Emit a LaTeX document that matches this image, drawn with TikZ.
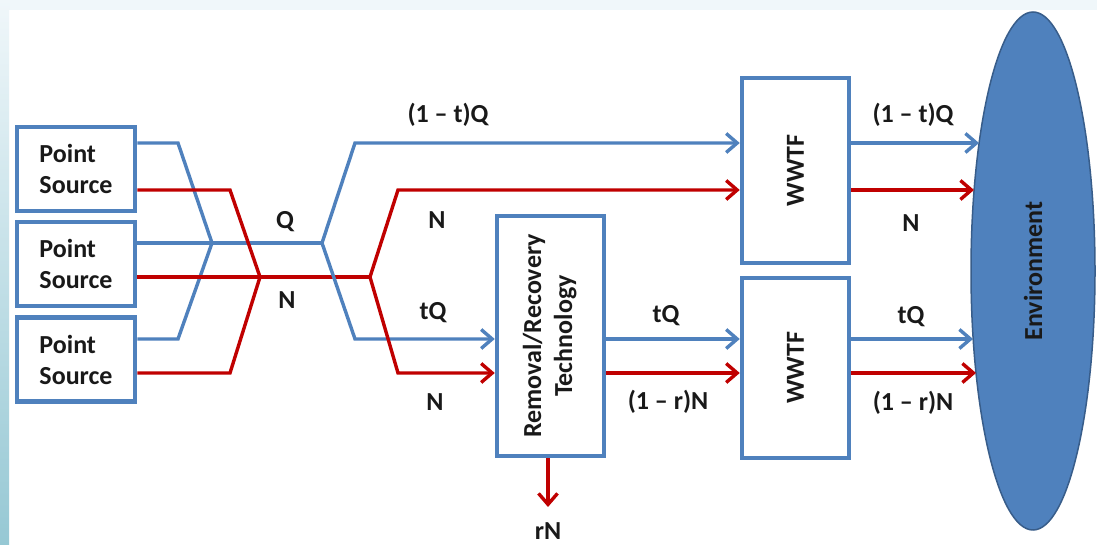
\documentclass[tikz,border=0pt]{standalone}
\usepackage{fontspec}
\setmainfont{Carlito}
\usetikzlibrary{arrows.meta,shapes.geometric}
\definecolor{flowblue}{RGB}{79,129,189}
\definecolor{flowred}{RGB}{192,0,0}
\definecolor{envborder}{RGB}{56,93,138}
\definecolor{slideedge}{RGB}{150,200,212}
\definecolor{slidetop}{RGB}{240,247,250}

\begin{document}
\begin{tikzpicture}[x=1pt,y=1pt,
  box/.style={draw=flowblue,line width=4.5pt,fill=white,inner sep=0pt,
    text=black!90,font=\bfseries\fontsize{26}{31}\selectfont},
  qline/.style={draw=flowblue,line width=3.4pt},
  nline/.style={draw=flowred,line width=3.4pt},
  tip/.style={-{Straight Barb[length=11pt,width=19pt]}},
  lbl/.style={text=black!90,inner sep=1pt,font=\bfseries\fontsize{26}{30}\selectfont}]
\useasboundingbox (0,0) rectangle (1097,545);
% Drawing background
\fill[white] (0,0) rectangle (1097,545);
\fill[slidetop] (0,535) rectangle (1097,545);
\shade[top color=slidetop,bottom color=slideedge] (0,0) rectangle (9,545);
% Drawing boxes
\node[box,minimum width=118,minimum height=84,align=left] (ps1) at (76,376) {Point\\Source};
\node[box,minimum width=118,minimum height=84,align=left] (ps2) at (76,281) {Point\\Source};
\node[box,minimum width=118,minimum height=84,align=left] (ps3) at (76,185.5) {Point\\Source};
\node[box,minimum width=107,minimum height=240] (rrt) at (550.5,209)
  {\rotatebox{90}{\begin{tabular}{@{}c@{}}Removal/Recovery\\Technology\end{tabular}}};
\node[box,minimum width=107,minimum height=185] (wwtf1) at (795.5,374.5) {\rotatebox{90}{WWTF}};
\node[box,minimum width=107,minimum height=180] (wwtf2) at (795.5,177) {\rotatebox{90}{WWTF}};
\node[ellipse,draw=envborder,fill=flowblue,line width=1.5pt,rotate=90,
  minimum width=518,minimum height=124,inner sep=0pt,text=black!90,
  font=\bfseries\fontsize{26}{30}\selectfont] (env) at (1033,274) {Environment};
% Junctions
\coordinate (qjoin) at (212,302);
\coordinate (njoin) at (260,268);
\coordinate (qsplit) at (322,302);
\coordinate (nsplit) at (370,268);
% Drawing flows out of the sources
\draw[qline] (ps1.east |- 0,402) -- (178,402) -- (qjoin);
\draw[qline] (ps2.east |- 0,302) -- (qjoin) -- (qsplit);
\draw[qline] (ps3.east |- 0,206) -- (178,206) -- (qjoin);
\draw[nline] (ps1.east |- 0,355) -- (230,355) -- (njoin);
\draw[nline] (ps2.east |- 0,268) -- (njoin) -- (nsplit);
\draw[nline] (ps3.east |- 0,172) -- (230,172) -- (njoin);
% Drawing the split
\draw[qline,tip] (qsplit) -- (355,402) -- (wwtf1.west |- 0,402);
\draw[qline,tip] (qsplit) -- (355,206) -- (rrt.west |- 0,206);
\draw[nline,tip] (nsplit) -- (398,355) -- (wwtf1.west |- 0,355);
\draw[nline,tip] (nsplit) -- (398,172) -- (rrt.west |- 0,172);
% Drawing treated flows
\draw[qline,tip] (rrt.east |- 0,206) -- (wwtf2.west |- 0,206);
\draw[nline,tip] (rrt.east |- 0,172) -- (wwtf2.west |- 0,172);
\coordinate (env1) at (979,402);
\coordinate (env2) at (974,355);
\coordinate (env3) at (973,206);
\coordinate (env4) at (976,172);
\draw[qline,tip] (wwtf1.east |- 0,402) -- (env1);
\draw[nline,tip] (wwtf1.east |- 0,355) -- (env2);
\draw[qline,tip] (wwtf2.east |- 0,206) -- (env3);
\draw[nline,tip] (wwtf2.east |- 0,172) -- (env4);
\coordinate (recov) at (548,38);
\draw[nline,tip] (rrt.south -| recov) -- (recov);
% Drawing labels
\node[lbl] (lq) at (285,323) {Q};
\node[lbl] (ln) at (287,245) {N};
\node[lbl] (lq1) at (448,430) {(1 -- t)Q};
\node[lbl] (ln1) at (437,325) {N};
\node[lbl] (lq2) at (433,232) {tQ};
\node[lbl] (ln2) at (435,143) {N};
\node[lbl] (lq3) at (666,229) {tQ};
\node[lbl] (ln3) at (668,143) {(1 -- r)N};
\node[lbl] (lq4) at (913,430) {(1 -- t)Q};
\node[lbl] (ln4) at (911,322) {N};
\node[lbl] (lq5) at (911,228) {tQ};
\node[lbl] (ln5) at (913,142) {(1 -- r)N};
\node[lbl] (lrn) at (548,14) {rN};
\end{tikzpicture}
\end{document}
